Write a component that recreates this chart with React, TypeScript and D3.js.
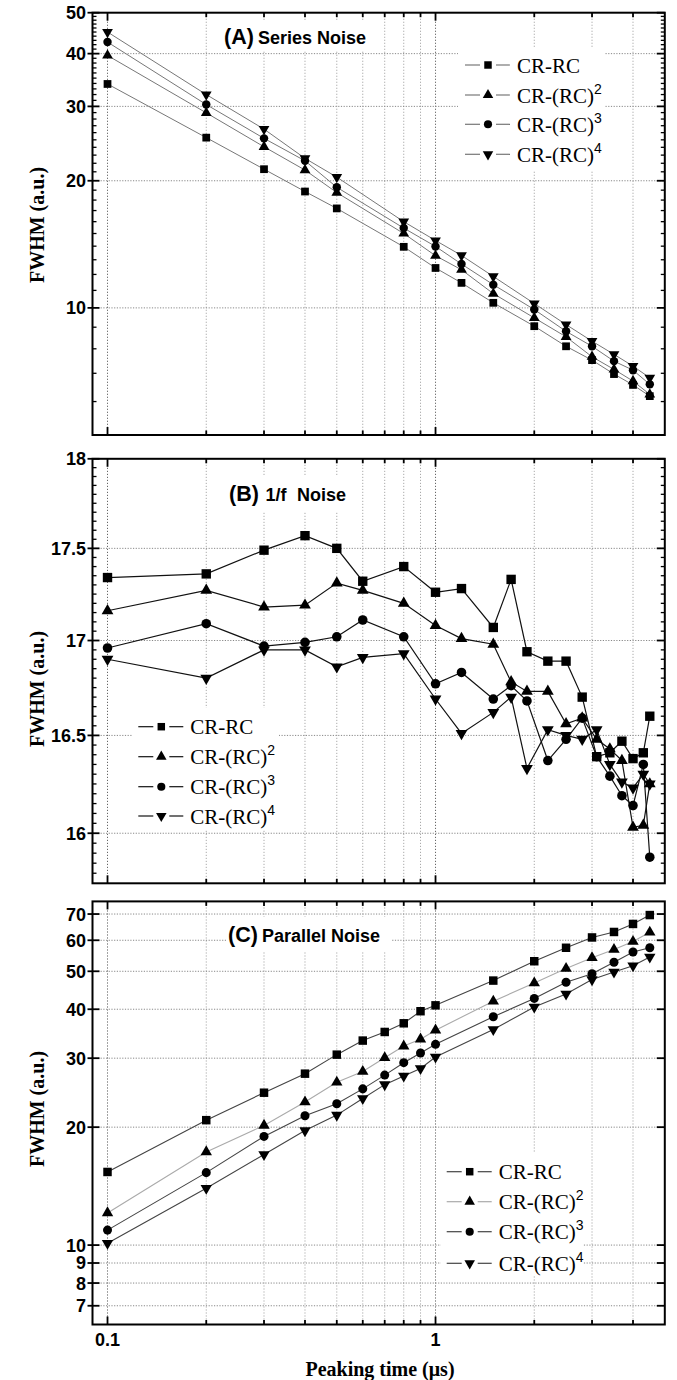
import React from "react";
import * as d3 from "d3";

// overall picture size
const W = 677;
const H = 1380;

// peaking times (us) for each panel
const timesA = [0.1, 0.2, 0.3, 0.4, 0.5, 0.8, 1, 1.2, 1.5, 2, 2.5, 3, 3.5, 4, 4.5];
const timesB = [0.1, 0.2, 0.3, 0.4, 0.5, 0.6, 0.8, 1, 1.2, 1.5, 1.7, 1.9, 2.2, 2.5, 2.8, 3.1, 3.4, 3.7, 4, 4.3, 4.5];
const timesC = [0.1, 0.2, 0.3, 0.4, 0.5, 0.6, 0.7, 0.8, 0.9, 1, 1.5, 2, 2.5, 3, 3.5, 4, 4.5];

// (A) series noise
const aCRRC = [33.9, 25.3, 21.3, 18.86, 17.2, 13.95, 12.43, 11.46, 10.28, 9.05, 8.11, 7.52, 6.97, 6.57, 6.18];
const aRC2 = [39.6, 28.96, 24.07, 21.2, 18.75, 15.0, 13.29, 12.31, 10.81, 9.47, 8.54, 7.66, 7.15, 6.71, 6.24];
const aRC3 = [42.6, 30.3, 25.2, 22.3, 19.3, 15.45, 13.98, 12.7, 11.35, 9.91, 8.8, 8.11, 7.48, 7.12, 6.59];
const aRC4 = [45.0, 32.0, 26.5, 22.6, 20.4, 16.0, 14.44, 13.31, 11.87, 10.24, 9.13, 8.34, 7.76, 7.28, 6.83];

// (B) 1/f noise
const bCRRC = [17.34, 17.36, 17.49, 17.57, 17.5, 17.32, 17.4, 17.26, 17.28, 17.07, 17.33, 16.94, 16.89, 16.89, 16.7, 16.39, 16.41, 16.47, 16.38, 16.41, 16.6];
const bRC2 = [17.16, 17.27, 17.18, 17.19, 17.31, 17.27, 17.2, 17.08, 17.01, 16.98, 16.78, 16.73, 16.73, 16.56, 16.59, 16.48, 16.43, 16.37, 16.03, 16.04, 16.25];
const bRC3 = [16.96, 17.09, 16.97, 16.99, 17.02, 17.11, 17.02, 16.77, 16.83, 16.69, 16.76, 16.68, 16.37, 16.48, 16.59, 16.39, 16.29, 16.19, 16.14, 16.35, 15.88];
const bRC4 = [16.9, 16.8, 16.95, 16.95, 16.86, 16.91, 16.93, 16.69, 16.51, 16.62, 16.7, 16.33, 16.53, 16.5, 16.48, 16.53, 16.35, 16.26, 16.23, 16.3, 16.25];

// (C) parallel noise
const cCRRC = [15.37, 20.84, 24.49, 27.39, 30.63, 33.27, 35.0, 36.83, 39.54, 40.93, 47.34, 53.04, 57.41, 61.0, 63.0, 66.04, 69.58];
const cRC2 = [12.08, 17.29, 20.21, 23.19, 26.04, 27.73, 30.08, 32.21, 33.55, 35.37, 41.93, 46.68, 50.84, 54.14, 56.81, 59.55, 62.9];
const cRC3 = [10.92, 15.31, 18.94, 21.38, 22.96, 25.05, 27.16, 29.22, 30.93, 32.54, 38.27, 42.63, 46.88, 49.29, 52.72, 56.02, 57.41];
const cRC4 = [10.11, 13.97, 17.04, 19.6, 21.47, 23.67, 25.68, 27.01, 28.24, 30.2, 35.5, 40.52, 43.75, 47.62, 49.8, 51.66, 54.37];

// legend names and superscripts
const seriesNames = ["CR-RC", "CR-(RC)", "CR-(RC)", "CR-(RC)"];
const seriesSup = ["", "2", "3", "4"];

// axis ticks
const xGridTicks = [0.1, 0.2, 0.3, 0.4, 0.5, 0.6, 0.7, 0.8, 0.9, 1, 2, 3, 4];
const xLabelTicks = [0.1, 1];
const yTicksA = [10, 20, 30, 40, 50];
const yMinorA = [6, 7, 8, 9, 11, 12, 13, 14, 15, 16, 17, 18, 19, 21, 22, 23, 24, 25, 26, 27, 28, 29, 31, 32, 33, 34, 35, 36, 37, 38, 39, 41, 42, 43, 44, 45, 46, 47, 48, 49];
const yTicksB = [16, 16.5, 17, 17.5, 18];
const yMinorB = d3.range(316, 360).map((v) => v / 20).filter((v) => Math.round(v * 2) !== v * 2);
const yTicksC = [7, 8, 9, 10, 20, 30, 40, 50, 60, 70];

const plotLeft = 92.5;
const plotRight = 664.8;
const xScale = d3.scaleLog().domain([0.09, 5]).range([plotLeft, plotRight]);

const tickFont = "'Liberation Sans', Arial, sans-serif";
const serifFont = "'Liberation Serif', 'Times New Roman', serif";

const symbolTypes = [d3.symbolSquare, d3.symbolTriangle, d3.symbolCircle, d3.symbolTriangle];

function Marker({ k, x, y, size }) {
    const d = d3.symbol().type(symbolTypes[k]).size(size)();
    const rot = k === 3 ? " rotate(180)" : "";
    return <path d={d} transform={`translate(${x},${y})${rot}`} fill="#000" />;
}

function Panel({ cfg }) {
    const { top, bottom } = cfg;
    const y = d3.scaleLog().domain(cfg.yDomain).range([bottom, top]);
    const line = d3.line<number>();
    const lg = cfg.legend;

    return (
        <g>
            {/* vertical grid */}
            {xGridTicks.map((t) => (
                <line key={"vg" + t} x1={xScale(t)} x2={xScale(t)} y1={top} y2={bottom}
                    stroke={t === 0.1 || t === 1 ? "#666" : "#aaa"} strokeWidth={1} strokeDasharray="1.2,1.8" />
            ))}
            {/* horizontal grid */}
            {cfg.yTicks.filter((t) => y(t) > top + 2 && y(t) < bottom - 2).map((t) => (
                <line key={"hg" + t} x1={plotLeft} x2={plotRight} y1={y(t)} y2={y(t)}
                    stroke="#888" strokeWidth={1} strokeDasharray="1.2,1.5" />
            ))}

            {/* title box */}
            <rect x={cfg.title.box[0]} y={cfg.title.box[1]} width={cfg.title.box[2]} height={cfg.title.box[3]} fill="#fff" />
            <text x={cfg.title.x} y={cfg.title.y} fontFamily={tickFont} fontWeight="bold" fontSize={21.5}>{cfg.title.tag}</text>
            {cfg.title.words.map((w, i) => (
                <text key={"tw" + i} x={w[0]} y={cfg.title.y} fontFamily={tickFont} fontWeight="bold" fontSize={18}>{w[1]}</text>
            ))}

            {/* legend */}
            <rect x={lg.box[0]} y={lg.box[1]} width={lg.box[2]} height={lg.box[3]} fill="#fff" />
            {lg.rows.map((ry, k) => (
                <g key={"lg" + k}>
                    <line x1={lg.x} x2={lg.x + 15} y1={ry} y2={ry} stroke={cfg.colors[k]} strokeWidth={1.2} />
                    <line x1={lg.x + 31} x2={lg.x + 45} y1={ry} y2={ry} stroke={cfg.colors[k]} strokeWidth={1.2} />
                    <Marker k={k} x={lg.x + 23} y={ry} size={cfg.legendSizes[k]} />
                    <text x={lg.x + 52} y={ry + 7.5} fontFamily={serifFont} fontSize={21}>
                        {seriesNames[k]}
                        {seriesSup[k] && <tspan dy={-9} fontSize={14} fontFamily={tickFont}>{seriesSup[k]}</tspan>}
                    </text>
                </g>
            ))}

            {/* data */}
            {cfg.series.map((vals, k) => (
                <path key={"ln" + k} d={line(vals.map((v, i) => [xScale(cfg.times[i]), y(v)])) as string}
                    fill="none" stroke={cfg.colors[k]} strokeWidth={cfg.lineWidth} />
            ))}
            {cfg.series.map((vals, k) => vals.map((v, i) => (
                <Marker key={"m" + k + "_" + i} k={k} x={xScale(cfg.times[i])} y={y(v)} size={cfg.sizes[k]} />
            )))}

            {/* frame */}
            <rect x={plotLeft} y={top} width={plotRight - plotLeft} height={bottom - top} fill="none" stroke="#000" strokeWidth={2} />

            {/* x ticks */}
            {xGridTicks.map((t) => {
                const len = xLabelTicks.includes(t) ? 8 : 4.5;
                return (
                    <g key={"xt" + t} stroke="#000" strokeWidth={1.8}>
                        <line x1={xScale(t)} x2={xScale(t)} y1={bottom} y2={bottom - len} />
                        <line x1={xScale(t)} x2={xScale(t)} y1={top} y2={top + len} />
                    </g>
                );
            })}

            {/* y ticks */}
            {cfg.yTicks.map((t) => (
                <g key={"yt" + t} stroke="#000" strokeWidth={1.8}>
                    <line x1={plotLeft - 5} x2={plotLeft + 7} y1={y(t)} y2={y(t)} />
                    <line x1={plotRight - 8} x2={plotRight} y1={y(t)} y2={y(t)} />
                </g>
            ))}
            {cfg.yMinor.map((t) => (
                <g key={"ym" + t} stroke="#000" strokeWidth={1.3}>
                    <line x1={plotLeft} x2={plotLeft + 4} y1={y(t)} y2={y(t)} />
                    <line x1={plotRight - 4} x2={plotRight} y1={y(t)} y2={y(t)} />
                </g>
            ))}
            {cfg.yTicks.map((t) => (
                <text key={"yl" + t} x={86} y={y(t)} dy="0.36em" textAnchor="end"
                    fontFamily={tickFont} fontWeight="bold" fontSize={18}>{String(t)}</text>
            ))}

            {/* y label */}
            <text transform={`translate(37,${cfg.labelY}) rotate(-90)`} textAnchor="middle" dy="0.35em"
                fontFamily={serifFont} fontWeight="bold" fontSize={20}>FWHM (a.u.)</text>
        </g>
    );
}

const panels = [
    {
        top: 12.7, bottom: 435, yDomain: [5, 50], yTicks: yTicksA, yMinor: yMinorA, labelY: 225,
        times: timesA, series: [aCRRC, aRC2, aRC3, aRC4],
        colors: ["#777", "#777", "#777", "#777"], lineWidth: 1,
        sizes: [60, 50, 56, 50], legendSizes: [56, 48, 52, 48],
        title: { tag: "(A)", x: 224, y: 44, words: [[258, "Series Noise"]], box: [222, 21, 156, 30] },
        legend: { x: 465, rows: [65, 95, 124.3, 154.3], box: [458, 47, 146, 123] },
    },
    {
        top: 458.8, bottom: 883.3, yDomain: [15.75, 18], yTicks: yTicksB, yMinor: yMinorB, labelY: 689,
        times: timesB, series: [bCRRC, bRC2, bRC3, bRC4],
        colors: ["#111", "#111", "#111", "#111"], lineWidth: 1.2,
        sizes: [88, 60, 72, 60], legendSizes: [56, 48, 52, 48],
        title: { tag: "(B)", x: 229, y: 500.5, words: [[265.5, "1/f"], [297, "Noise"]], box: [227, 476, 128, 36] },
        legend: { x: 138.3, rows: [726.7, 756.7, 786.7, 816], box: [132, 708, 147, 122] },
    },
    {
        top: 901.4, bottom: 1324.5, yDomain: [6.27, 75.4], yTicks: yTicksC, yMinor: [], labelY: 1109,
        times: timesC, series: [cCRRC, cRC2, cRC3, cRC4],
        colors: ["#444", "#aaa", "#444", "#444"], lineWidth: 1.1,
        sizes: [72, 56, 64, 56], legendSizes: [56, 48, 52, 48],
        title: { tag: "(C)", x: 228, y: 941.5, words: [[262, "Parallel Noise"]], box: [226, 917, 166, 35] },
        legend: { x: 446.7, rows: [1171.7, 1201.7, 1231.7, 1263.3], box: [441, 1152, 142, 124] },
    },
];

export default function App() {
    return (
        <svg width={W} height={H} style={{ position: "absolute", left: 0, top: 0, background: "#fff" }}>
            <rect x={0} y={0} width={W} height={H} fill="#fff" />
            {panels.map((p, i) => <Panel key={i} cfg={p} />)}

            {/* x tick labels on bottom panel */}
            {xLabelTicks.map((t) => (
                <text key={"xl" + t} x={xScale(t)} y={1340} dy="0.36em" textAnchor="middle"
                    fontFamily={tickFont} fontWeight="bold" fontSize={18}>{String(t)}</text>
            ))}
            <text x={380} y={1369} dy="0.35em" textAnchor="middle" fontFamily={serifFont} fontWeight="bold" fontSize={20}>
                Peaking time (μs)
            </text>
        </svg>
    );
}
